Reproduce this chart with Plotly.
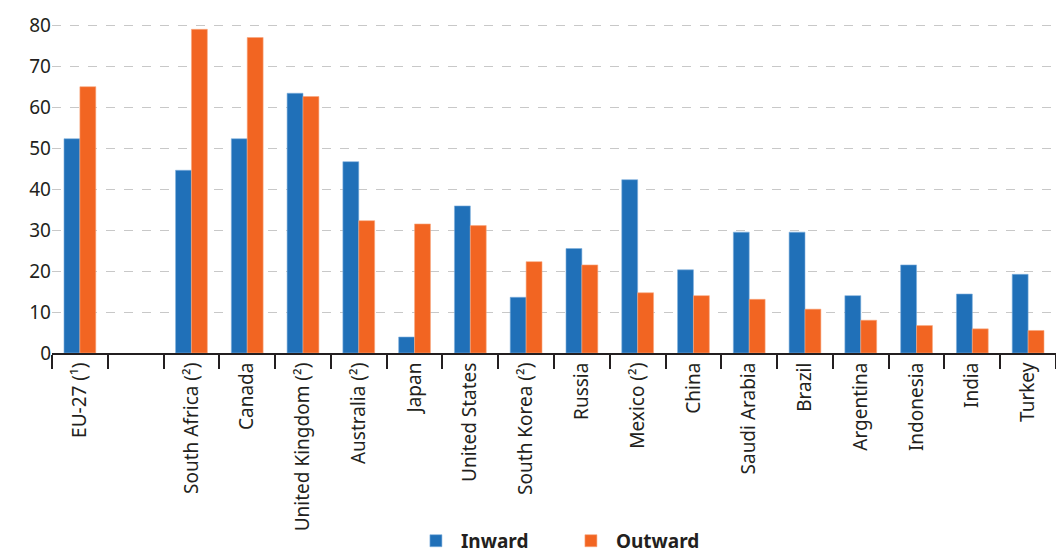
import plotly.graph_objects as go

countries = ['EU-27 (¹)', ' ', 'South Africa (²)', 'Canada', 'United Kingdom (²)', 'Australia (²)',
             'Japan', 'United States', 'South Korea (²)', 'Russia', 'Mexico (²)', 'China',
             'Saudi Arabia', 'Brazil', 'Argentina', 'Indonesia', 'India', 'Turkey']
inward = [52.3, None, 44.6, 52.3, 63.4, 46.7, 3.9, 35.9, 13.6, 25.5, 42.3, 20.3,
          29.5, 29.5, 14.0, 21.5, 14.4, 19.2]
outward = [65.0, None, 79.0, 77.0, 62.6, 32.3, 31.5, 31.1, 22.3, 21.5, 14.7, 14.0,
           13.1, 10.7, 8.0, 6.7, 5.9, 5.5]

blue = '#2070b8'
orange = '#f26522'

fig = go.Figure()
fig.add_trace(go.Bar(x=countries, y=inward, name='Inward', marker_color=blue,
                     marker_line=dict(color='#7fb0de', width=0.6)))
fig.add_trace(go.Bar(x=countries, y=outward, name='Outward', marker_color=orange,
                     marker_line=dict(color='#f9a77f', width=0.6)))

fig.update_layout(
    template=None,
    width=1056, height=553,
    margin=dict(l=52, r=0, t=24, b=200, autoexpand=False),
    paper_bgcolor='white', plot_bgcolor='white',
    barmode='group', bargap=0.43, bargroupgap=0,
    font=dict(family='Noto Sans', size=16, color='#231f20'),
    showlegend=True,
    legend=dict(orientation='h', x=0.3575, xanchor='left', y=-0.571, yanchor='middle',
                font=dict(size=19, color='#231f20', weight='bold'),
                itemwidth=40, entrywidth=100),
    xaxis=dict(type='category', tickangle=-90, showgrid=False, automargin=False,
               showline=True, linecolor='#231f20', linewidth=2,
               ticks='outside', tickson='boundaries', ticklen=14, tickwidth=2,
               tickcolor='#231f20', tickfont=dict(size=19)),
    yaxis=dict(range=[0, 80.3], dtick=10, showline=False, ticks='', automargin=False,
               showgrid=True, gridcolor='#c8c8c8', griddash='dash', gridwidth=1,
               zeroline=False, tickfont=dict(size=19)),
)

# page body has a default margin; drop it so the figure fills the window
fig.write_html("out.html", config={'displayModeBar': False},
               post_script="document.body.style.margin='0';")
